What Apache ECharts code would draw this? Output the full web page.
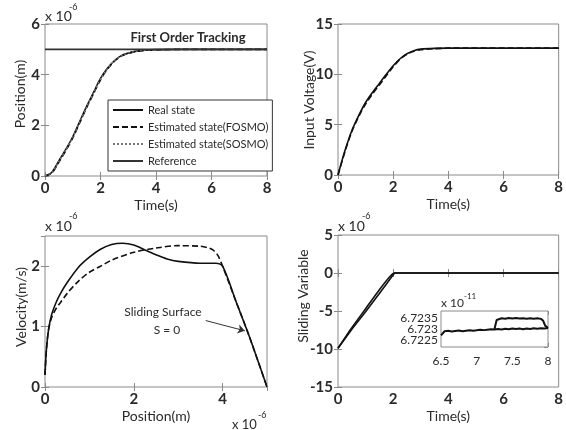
<!DOCTYPE html>
<html>
<head>
<meta charset="utf-8">
<script src="https://cdn.jsdelivr.net/npm/echarts@6/dist/echarts.min.js"></script>
<style>
  html, body { margin: 0; padding: 0; background: #fff; }
  #main { width: 566px; height: 430px; }
</style>
</head>
<body>
<div id="main"></div>
<script>
// position tracking (x 1e-6 m)
var posT = [0, 0.25, 0.5, 0.75, 1, 1.25, 1.5, 1.75, 2, 2.25, 2.5, 2.75, 3, 3.25, 3.5, 4, 5, 6, 8];
var posReal = [0, 0.15, 0.6, 1.05, 1.55, 2.15, 2.75, 3.3, 3.85, 4.25, 4.55, 4.75, 4.85, 4.92, 4.96, 4.99, 5, 5, 5];
var posFosmo = [0, 0.12, 0.55, 1.0, 1.5, 2.1, 2.7, 3.25, 3.8, 4.22, 4.53, 4.73, 4.84, 4.91, 4.95, 4.98, 5, 5, 5];
var posSosmo = [0, 0.14, 0.58, 1.03, 1.53, 2.12, 2.72, 3.28, 3.83, 4.23, 4.54, 4.74, 4.85, 4.92, 4.96, 4.99, 5, 5, 5];
var refT = [0, 8];
var refVal = [5, 5];

// input voltage (V)
var voltT = [0, 0.25, 0.5, 0.75, 1, 1.25, 1.5, 1.75, 2, 2.25, 2.5, 2.75, 3, 3.5, 4, 8];
var voltReal = [0, 2.4, 4.4, 5.9, 7.2, 8.2, 9.1, 10.0, 10.85, 11.55, 12.05, 12.35, 12.5, 12.58, 12.6, 12.6];
var voltEst = [0, 2.3, 4.3, 5.8, 7.05, 8.05, 8.95, 9.85, 10.75, 11.5, 12.0, 12.3, 12.45, 12.55, 12.6, 12.6];

// phase plane (x 1e-6)
var phaseRealX = [0, 0.03, 0.08, 0.15, 0.25, 0.35, 0.5, 0.75, 1, 1.25, 1.5, 1.75, 2, 2.25, 2.5, 2.75, 3, 3.5, 3.85, 4, 4.3, 4.6, 5];
var phaseRealY = [0.2, 0.6, 0.95, 1.2, 1.4, 1.55, 1.73, 1.98, 2.15, 2.28, 2.36, 2.38, 2.35, 2.27, 2.19, 2.12, 2.08, 2.05, 2.05, 2.0, 1.42, 0.84, 0];
var phaseFosmoX = [0, 0.03, 0.08, 0.15, 0.25, 0.35, 0.5, 0.75, 1, 1.25, 1.5, 2, 2.5, 3, 3.5, 3.7, 3.8, 3.9, 4, 4.3, 4.6, 5];
var phaseFosmoY = [0.2, 0.6, 0.95, 1.15, 1.3, 1.4, 1.55, 1.75, 1.9, 2.0, 2.1, 2.23, 2.3, 2.34, 2.33, 2.3, 2.26, 2.17, 2.0, 1.42, 0.84, 0];

// sliding variable (x 1e-6)
var slideTA = [0, 0.5, 1, 1.5, 2.05, 8];
var slideA = [-9.9, -7.4, -5.1, -2.7, 0, 0];
var slideTB = [0, 0.5, 1, 1.5, 1.9, 2.05, 8];
var slideB = [-9.9, -7.2, -4.7, -2.2, -0.4, 0, 0];

// inset (x 1e-11)
var insetT = [6.5, 6.55, 6.6, 6.65, 6.7, 6.75, 6.8, 6.85, 6.9, 6.95, 7.0, 7.05, 7.1, 7.15, 7.2, 7.25, 7.3, 7.35, 7.4, 7.45, 7.5, 7.55, 7.6, 7.65, 7.7, 7.75, 7.8, 7.85, 7.9, 7.95, 8.0];
var insetLow = [6.72272, 6.7229, 6.72292, 6.72289, 6.72291, 6.72293, 6.7229, 6.72292, 6.72294, 6.72292, 6.72294, 6.72297, 6.72295, 6.72297, 6.72299, 6.72298, 6.723, 6.72298, 6.72301, 6.72299, 6.72302, 6.723, 6.72302, 6.72299, 6.72302, 6.723, 6.72303, 6.72301, 6.72303, 6.72302, 6.72304];
var insetUpT = [7.25, 7.28, 7.3, 7.35, 7.4, 7.45, 7.5, 7.55, 7.6, 7.65, 7.7, 7.75, 7.8, 7.85, 7.9, 7.93, 7.96, 8.0];
var insetUp = [6.723, 6.7234, 6.72346, 6.72348, 6.72346, 6.72349, 6.72347, 6.72349, 6.72347, 6.72348, 6.72346, 6.72348, 6.72346, 6.72348, 6.72345, 6.72338, 6.72315, 6.72304];

var legendNames = ['Real state', 'Estimated state(FOSMO)', 'Estimated state(SOSMO)', 'Reference'];
var yNames = ['Position(m)', 'Input Voltage(V)', 'Velocity(m/s)', 'Sliding Variable'];

function zip(a, b) {
    return a.map(function (v, i) { return [v, b[i]]; });
}

var FONT = 'Lato, "Open Sans", sans-serif';
var BOX = '#8a8a8a';
var INK = '#2a2a2a';

function mainX(grid, min, max, interval, name, opts) {
    opts = opts || {};
    return {
        gridIndex: grid, type: 'value', min: min, max: max, interval: interval,
        axisLine: { show: false },
        axisTick: { inside: true, length: 4, lineStyle: { color: BOX } },
        splitLine: { show: false },
        axisLabel: {
            margin: opts.margin || 5, color: INK, fontFamily: FONT,
            fontSize: opts.fontSize || 15, fontWeight: opts.fontWeight || 'bold',
            showMaxLabel: opts.showMax !== false
        },
        name: name, nameLocation: 'middle', nameGap: opts.nameGap || 22,
        nameTextStyle: { color: INK, fontFamily: FONT, fontSize: 14 }
    };
}

function mainY(grid, min, max, interval, opts) {
    opts = opts || {};
    var ax = {
        gridIndex: grid, type: 'value', min: min, max: max,
        axisLine: { show: false },
        axisTick: { inside: true, length: 4, lineStyle: { color: BOX } },
        splitLine: { show: false },
        axisLabel: {
            margin: opts.margin || 5, color: INK, fontFamily: FONT,
            fontSize: opts.fontSize || 15, fontWeight: opts.fontWeight || 'bold',
            showMaxLabel: opts.showMax !== false,
            showMinLabel: opts.showMin !== false
        }
    };
    if (interval != null) ax.interval = interval;
    if (opts.splitNumber) ax.splitNumber = opts.splitNumber;
    return ax;
}

function mirror(ax, pos) {
    var m = {
        gridIndex: ax.gridIndex, type: 'value', min: ax.min, max: ax.max, position: pos,
        axisLine: { show: false }, axisLabel: { show: false }, splitLine: { show: false },
        axisTick: { inside: true, length: 4, lineStyle: { color: BOX } }
    };
    if (ax.interval != null) m.interval = ax.interval;
    if (ax.splitNumber) m.splitNumber = ax.splitNumber;
    return m;
}

function line(name, xi, yi, data, style, extra) {
    var s = {
        name: name, type: 'line', xAxisIndex: xi, yAxisIndex: yi,
        data: data, symbol: 'none', showSymbol: false,
        smooth: 0.3,
        lineStyle: style, itemStyle: { color: style.color },
        animation: false
    };
    for (var k in extra || {}) s[k] = extra[k];
    return s;
}

function txt(x, y, text, font, align, rot) {
    var g = { type: 'text', x: x, y: y, style: { text: text, align: align || 'left', verticalAlign: 'middle', fill: INK, font: font + ' ' + FONT } };
    if (rot) g.rotation = rot;
    return g;
}

var xs = [
    mainX(0, 0, 8, 2, 'Time(s)'),
    mainX(1, 0, 8, 2, 'Time(s)'),
    mainX(2, 0, 5, 2, 'Position(m)', { showMax: false }),
    mainX(3, 0, 8, 2, 'Time(s)'),
    mainX(4, 6.5, 8, 0.5, '', { fontSize: 12, fontWeight: 'normal', margin: 8 })
];
var ys = [
    mainY(0, 0, 6, 2),
    mainY(1, 0, 15, 5),
    mainY(2, 0, 2.5, 1, { showMax: false }),
    mainY(3, -15, 5, 5),
    mainY(4, 6.7222, 6.7238, null, { fontSize: 12, fontWeight: 'normal', margin: 3, splitNumber: 3, showMax: false, showMin: false })
];
var xAll = xs.concat(xs.map(function (a) { return mirror(a, 'top'); }));
var yAll = ys.concat(ys.map(function (a) { return mirror(a, 'right'); }));

var solid = { color: '#111', width: 1.6, type: 'solid' };
var dashed = { color: '#111', width: 1.6, type: [6, 3] };
var dotted = { color: '#777', width: 1.4, type: [2, 2] };
var UP = Math.PI / 2;

var chart = echarts.init(document.getElementById('main'), null, { renderer: 'canvas' });
chart.setOption({
    backgroundColor: '#fff',
    animation: false,
    textStyle: { fontFamily: FONT },
    grid: [
        { left: 45, top: 24, width: 222, height: 152, show: true, borderColor: BOX, borderWidth: 1 },
        { left: 338, top: 24, width: 223, height: 151, show: true, borderColor: BOX, borderWidth: 1 },
        { left: 45, top: 236, width: 222, height: 151, show: true, borderColor: BOX, borderWidth: 1 },
        { left: 338, top: 235, width: 223, height: 152, show: true, borderColor: BOX, borderWidth: 1 },
        { left: 441, top: 311, width: 107, height: 36, show: true, borderColor: BOX, borderWidth: 1, backgroundColor: '#fff', z: 5 }
    ],
    xAxis: xAll,
    yAxis: yAll,
    legend: {
        data: legendNames,
        orient: 'vertical', left: 108, top: 100,
        itemWidth: 30, itemHeight: 10, itemGap: 5,
        padding: [4, 4, 4, 4],
        borderColor: '#333', borderWidth: 1, backgroundColor: '#fff',
        itemStyle: { opacity: 0 },
        textStyle: { color: INK, fontFamily: FONT, fontSize: 11, lineHeight: 12 },
        selectedMode: false
    },
    graphic: [
        txt(188, 38, 'First Order Tracking', 'bold 13px', 'center'),
        txt(20, 94, yNames[0], '14px', 'center', UP),
        txt(309, 100, yNames[1], '14px', 'center', UP),
        txt(21, 307, yNames[2], '14px', 'center', UP),
        txt(303, 296, yNames[3], '14px', 'center', UP),
        txt(45, 16, 'x 10', '14px'),
        txt(69, 7, '-6', '9px'),
        txt(45, 226, 'x 10', '14px'),
        txt(69, 216, '-6', '9px'),
        txt(338, 226, 'x 10', '14px'),
        txt(362, 216, '-6', '9px'),
        txt(232, 425, 'x 10', '13px'),
        txt(258, 415, '-6', '9px'),
        txt(441, 303, 'x 10', '12px'),
        txt(464, 296, '-11', '8px'),
        txt(163, 312, 'Sliding Surface', '12px', 'center'),
        txt(167, 330, 'S = 0', '12px', 'center')
    ],
    series: [
        line(legendNames[0], 0, 0, zip(posT, posReal), solid),
        line(legendNames[1], 0, 0, zip(posT, posFosmo), dashed),
        line(legendNames[2], 0, 0, zip(posT, posSosmo), dotted),
        line(legendNames[3], 0, 0, zip(refT, refVal), { color: '#333', width: 1.6, type: 'solid' }, { smooth: false }),

        line('volt', 1, 1, zip(voltT, voltReal), solid),
        line('voltEst', 1, 1, zip(voltT, voltEst), dashed),

        line('phase', 2, 2, zip(phaseRealX, phaseRealY), solid, {
            markLine: {
                silent: true, symbol: ['none', 'arrow'], symbolSize: 7,
                lineStyle: { color: '#333', width: 1, type: 'solid' },
                label: { show: false },
                data: [[{ coord: [3.62, 1.1] }, { coord: [4.5, 0.93] }]]
            }
        }),
        line('phaseEst', 2, 2, zip(phaseFosmoX, phaseFosmoY), dashed),

        line('slideA', 3, 3, zip(slideTA, slideA), solid, { smooth: false }),
        line('slideB', 3, 3, zip(slideTB, slideB), solid, { smooth: 0.2 }),

        line('insetLow', 4, 4, zip(insetT, insetLow), { color: '#111', width: 2, type: 'solid' }, { smooth: false, z: 6 }),
        line('insetUp', 4, 4, zip(insetUpT, insetUp), { color: '#111', width: 2, type: 'solid' }, { smooth: false, z: 6 })
    ]
});
</script>
</body>
</html>
